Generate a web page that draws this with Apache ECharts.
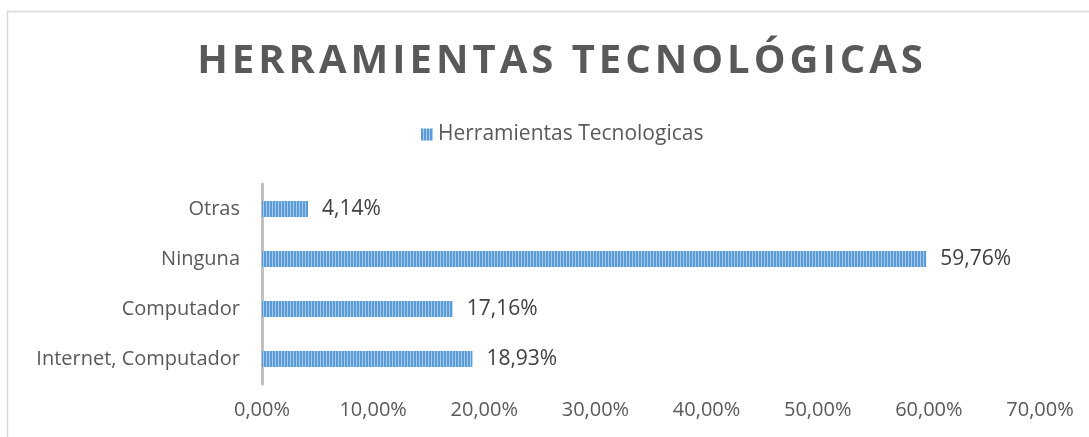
<!DOCTYPE html>
<html><head><meta charset="utf-8">
<script src="https://cdn.jsdelivr.net/npm/echarts@6/dist/echarts.min.js"></script>
<style>html,body{margin:0;padding:0;background:#fff}#c{width:1089px;height:437px}</style>
</head><body><div id="c"></div>
<script>
const categories = ['Internet, Computador', 'Computador', 'Ninguna', 'Otras'];
const values = [18.93, 17.16, 59.76, 4.14];
const tickLabels = ['0,00%', '10,00%', '20,00%', '30,00%', '40,00%', '50,00%', '60,00%', '70,00%'];
const seriesName = 'Herramientas Tecnologicas';
const titleText = 'HERRAMIENTAS TECNOLÓGICAS';

const pc = document.createElement('canvas');
pc.width = 3; pc.height = 4;
const g = pc.getContext('2d');
g.fillStyle = '#5B9BD5'; g.fillRect(0, 0, 3, 4);
g.fillStyle = '#A8CBEB'; g.fillRect(2, 0, 1, 4);

const chart = echarts.init(document.getElementById('c'));
const font = '"Open Sans", "Noto Sans", sans-serif';
chart.setOption({
  animation: false,
  textStyle: { fontFamily: font },
  title: {
    text: titleText.split('').join('\u200A'),
    left: 555, top: 37, textAlign: 'center',
    textStyle: { fontSize: 40, fontWeight: 'bold', color: '#595959', fontFamily: font }
  },
  graphic: [{ type: 'rect', shape: { x: 7.5, y: 11.5, width: 1100, height: 500 },
    style: { fill: 'none', stroke: '#D9D9D9', lineWidth: 1.5 }, silent: true }],
  legend: {
    left: 416, top: 119, itemWidth: 12, itemHeight: 12, itemGap: 4,
    data: [{ name: seriesName, icon: 'rect' }],
    textStyle: { fontSize: 21, color: '#595959', fontFamily: font }
  },
  grid: { left: 262, right: 49, top: 184, bottom: 53, containLabel: false },
  xAxis: {
    type: 'value', min: 0, max: 70, interval: 10,
    axisLine: { show: false }, axisTick: { show: false }, splitLine: { show: false },
    axisLabel: { margin: 16, fontSize: 20, color: '#595959',
      formatter: (v) => tickLabels[Math.round(v / 10)] }
  },
  yAxis: {
    type: 'category', data: categories,
    axisLine: { show: true, lineStyle: { color: '#BFBFBF', width: 3 } },
    axisTick: { show: false },
    axisLabel: { margin: 22, fontSize: 20, color: '#595959' }
  },
  series: [{
    name: seriesName, type: 'bar', data: values, barWidth: 16,
    itemStyle: { color: { image: pc, repeat: 'repeat' } },
    label: { show: true, position: 'right', distance: 14, fontSize: 21, color: '#404040',
      formatter: (p) => p.value.toFixed(2).replace('.', ',') + '%' }
  }]
});
</script></body></html>
